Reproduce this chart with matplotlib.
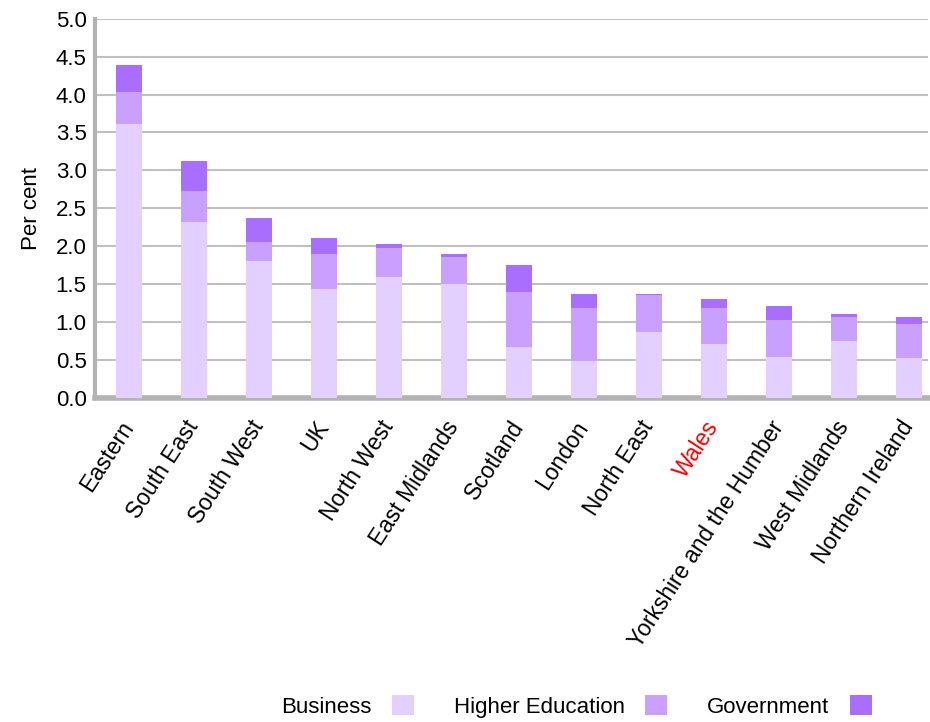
import numpy as np
import matplotlib
matplotlib.use('Agg')
from matplotlib import pyplot as plt

plt.rcParams['font.family'] = ['Liberation Sans', 'DejaVu Sans']

regions = ['Eastern', 'South East', 'South West', 'UK', 'North West', 'East Midlands',
           'Scotland', 'London', 'North East', 'Wales', 'Yorkshire and the Humber',
           'West Midlands', 'Northern Ireland']
business = [3.61, 2.32, 1.81, 1.44, 1.60, 1.50, 0.67, 0.49, 0.87, 0.71, 0.54, 0.75, 0.53]
higher_ed = [0.43, 0.41, 0.25, 0.46, 0.37, 0.36, 0.73, 0.70, 0.49, 0.48, 0.48, 0.31, 0.45]
government = [0.35, 0.40, 0.31, 0.21, 0.06, 0.04, 0.35, 0.18, 0.01, 0.12, 0.19, 0.05, 0.08]

c_bus = '#e4d0fe'
c_he = '#c9a0fe'
c_gov = '#aa6eff'

fig = plt.figure(figsize=(9.3, 7.22), dpi=100)
ax = fig.add_axes([0.102, 0.449, 0.896, 0.525])

x = np.arange(len(regions))
b = np.array(business)
h = np.array(higher_ed)
g = np.array(government)
w = 0.4
ax.bar(x, b, w, color=c_bus, label='Business', zorder=3)
ax.bar(x, h, w, bottom=b, color=c_he, label='Higher Education', zorder=3)
ax.bar(x, g, w, bottom=b + h, color=c_gov, label='Government', zorder=3)

ax.set_xlim(-0.52, 12.3)
ax.set_ylim(0, 5.0)
ax.set_yticks(np.arange(0, 5.01, 0.5))
ax.set_yticklabels(['%.1f' % v for v in np.arange(0, 5.01, 0.5)], fontsize=16)
ax.yaxis.grid(True, color='#c0c0c0', linewidth=1.5, zorder=0)
ax.tick_params(axis='both', length=0, pad=6)

ax.set_xticks(x)
ax.set_xticklabels(regions, rotation=57, ha='right', va='center',
                   rotation_mode='anchor', fontsize=16.5)
for lab in ax.get_xticklabels():
    if lab.get_text() == 'Wales':
        lab.set_color('red')
ax.tick_params(axis='x', pad=18)

for s in ['top', 'right']:
    ax.spines[s].set_visible(False)
ax.spines['left'].set_color('#b3b3b3')
ax.spines['left'].set_linewidth(3)
ax.spines['bottom'].set_color('#b3b3b3')
ax.spines['bottom'].set_linewidth(4)

ax.set_ylabel('Per cent', fontsize=16, labelpad=10)

fig.legend(loc='lower center', bbox_to_anchor=(0.62, -0.022), ncol=3, frameon=False,
           markerfirst=False, fontsize=16, handlelength=1.0, handleheight=1.0,
           columnspacing=1.8, handletextpad=0.9)

fig.savefig('out.png', dpi=100)
